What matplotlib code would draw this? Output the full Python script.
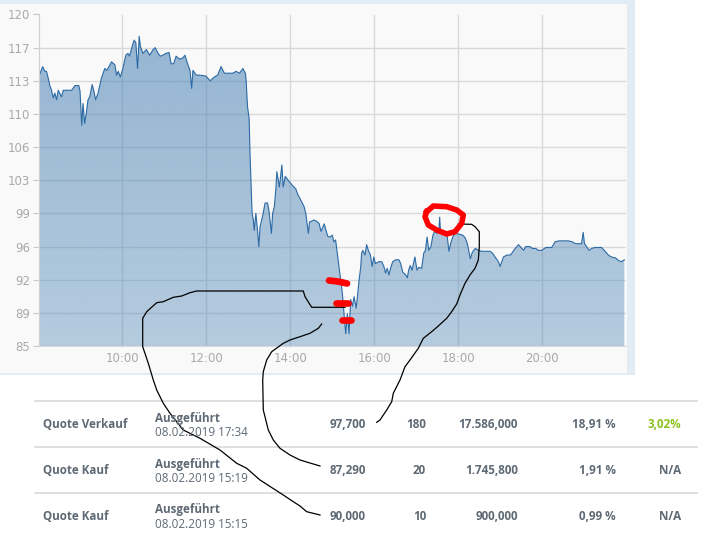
import numpy as np
import matplotlib.pyplot as plt
from matplotlib.patches import Rectangle

# intraday price curve (hours, price)
times = [8.00, 8.02, 8.10, 8.15, 8.19, 8.23, 8.27, 8.31, 8.35, 8.39, 8.43, 8.47, 8.55, 8.59,
         8.79, 8.87, 8.96, 8.99, 9.03, 9.06, 9.10, 9.14, 9.18, 9.22, 9.28, 9.32, 9.36, 9.42,
         9.50, 9.58, 9.63, 9.74, 9.82, 9.86, 9.90, 9.95, 10.01, 10.08, 10.13, 10.17, 10.23,
         10.28, 10.32, 10.36, 10.40, 10.43, 10.49, 10.57, 10.65, 10.73, 10.78, 10.85, 10.90,
         10.96, 11.04, 11.11, 11.16, 11.22, 11.28, 11.36, 11.44, 11.49, 11.56, 11.61, 11.65,
         11.68, 11.76, 11.84, 11.99, 12.09, 12.19, 12.27, 12.35, 12.43, 12.63, 12.71, 12.79,
         12.87, 12.93, 12.95, 12.98, 13.02, 13.04, 13.07, 13.09, 13.12, 13.14, 13.18, 13.22,
         13.25, 13.28, 13.34, 13.40, 13.46, 13.50, 13.55, 13.58, 13.62, 13.66, 13.68, 13.74,
         13.80, 13.83, 13.88, 13.97, 14.04, 14.13, 14.17, 14.25, 14.33, 14.37, 14.43, 14.46,
         14.57, 14.65, 14.69, 14.73, 14.81, 14.89, 14.94, 15.00, 15.04, 15.08, 15.12, 15.16,
         15.20, 15.24, 15.28, 15.32, 15.36, 15.40, 15.44, 15.48, 15.52, 15.57, 15.60, 15.64,
         15.68, 15.70, 15.73, 15.78, 15.82, 15.86, 15.91, 15.95, 15.99, 16.03, 16.11, 16.18,
         16.23, 16.27, 16.31, 16.35, 16.39, 16.44, 16.51, 16.59, 16.63, 16.68, 16.75, 16.79,
         16.82, 16.86, 16.90, 16.97, 17.02, 17.06, 17.13, 17.18, 17.22, 17.26, 17.30, 17.35,
         17.40, 17.44, 17.50, 17.54, 17.56, 17.58, 17.70, 17.74, 17.78, 17.82, 17.87, 17.93,
         18.03, 18.11, 18.17, 18.22, 18.25, 18.29, 18.33, 18.37, 18.41, 18.49, 18.55, 18.65,
         18.76, 18.82, 18.88, 18.96, 19.00, 19.04, 19.08, 19.16, 19.24, 19.28, 19.36, 19.44,
         19.52, 19.56, 19.61, 19.71, 19.77, 19.85, 19.91, 19.99, 20.09, 20.23, 20.31, 20.40,
         20.63, 20.72, 20.80, 20.88, 20.94, 20.98, 21.01, 21.06, 21.12, 21.18, 21.26, 21.42,
         21.50, 21.58, 21.65, 21.75, 21.83, 21.89, 21.96]
prices = [113.6, 113.6, 114.5, 114.0, 114.0, 113.3, 112.5, 112.0, 111.2, 111.7, 111.0, 112.0, 111.3, 112.0,
          112.0, 112.5, 112.5, 111.9, 108.3, 110.6, 108.5, 109.6, 111.0, 111.3, 112.6, 111.9, 111.0, 111.7,
          113.3, 114.3, 114.1, 115.0, 114.7, 113.6, 114.0, 113.4, 114.3, 115.7, 115.9, 115.6, 116.6,
          117.3, 117.0, 114.3, 117.7, 116.6, 115.9, 116.3, 115.7, 116.3, 116.5, 115.9, 115.6,
          115.7, 115.9, 116.0, 114.8, 114.8, 115.6, 115.3, 115.4, 115.7, 114.7, 114.1, 112.2,
          114.1, 113.6, 113.6, 113.5, 113.0, 113.4, 113.6, 114.5, 113.8, 113.8, 114.0, 113.8,
          114.3, 113.8, 112.9, 110.3, 109.0, 105.3, 101.6, 99.0, 98.3, 97.2, 99.0, 97.2,
          95.5, 97.6, 98.7, 100.1, 100.1, 99.0, 96.9, 99.0, 99.7, 101.8, 103.4, 101.8,
          104.1, 101.8, 102.9, 102.4, 102.0, 101.6, 101.1, 100.4, 99.7, 99.0, 96.9, 98.1,
          98.3, 98.1, 97.9, 97.1, 97.9, 96.6, 96.5, 96.7, 96.0, 96.2, 94.8, 93.4,
          92.0, 90.6, 88.4, 86.3, 88.4, 86.3, 89.9, 89.2, 90.2, 89.0, 90.2, 92.0,
          93.4, 94.8, 95.1, 94.6, 95.7, 95.1, 94.6, 93.4, 94.4, 93.7, 93.9, 93.9,
          93.4, 92.7, 93.2, 92.5, 93.2, 93.9, 94.1, 94.1, 93.7, 92.8, 92.5, 92.2,
          93.0, 93.5, 93.0, 94.4, 93.0, 93.3, 93.2, 94.8, 95.1, 96.5, 95.1, 95.5,
          96.7, 97.1, 96.9, 97.1, 98.6, 97.1, 96.9, 96.6, 95.0, 95.8, 96.5, 96.9,
          96.8, 96.7, 96.4, 95.8, 95.1, 94.2, 94.8, 95.1, 95.3, 95.1, 95.0, 95.0,
          95.0, 94.8, 94.4, 93.9, 93.4, 93.9, 94.4, 94.6, 94.6, 94.8, 95.3, 95.7,
          95.3, 95.1, 95.5, 95.5, 95.3, 95.3, 95.1, 95.1, 95.4, 95.4, 96.0, 96.1,
          96.1, 96.0, 95.8, 95.8, 95.8, 97.0, 95.8, 95.5, 95.1, 95.3, 95.4, 95.4,
          95.0, 94.6, 94.4, 94.3, 94.0, 93.9, 94.1]

y_ticks = np.arange(85, 120.1, 3.5)
y_labels = [str(int(np.floor(v + 0.5))) for v in y_ticks]
x_ticks = [10, 12, 14, 16, 18, 20]
x_labels = ['%d:00' % h for h in x_ticks]

# order table below the chart
row_types = ['Quote Verkauf', 'Quote Kauf', 'Quote Kauf']
row_status = ['Ausgeführt', 'Ausgeführt', 'Ausgeführt']
row_dates = ['08.02.2019 17:34', '08.02.2019 15:19', '08.02.2019 15:15']
row_prices = ['97,700', '87,290', '90,000']
row_qty = ['180', '20', '10']
row_volume = ['17.586,000', '1.745,800', '900,000']
row_share = ['18,91 %', '1,91 %', '0,99 %']
row_result = ['3,02%', 'N/A', 'N/A']

# hand drawn marks on the screenshot (pixel coords)
red_marks = [[(329, 280.5), (338, 281.5), (347, 283.5)],
             [(336, 302.5), (348, 302.5)],
             [(342, 319.5), (351, 319.5)]]
red_loop = [(426.7, 211.7), (433.3, 206), (446.7, 206.7), (456.7, 210), (463.3, 215), (461.7, 223.3),
            (455, 231.7), (446.7, 234), (436.7, 230), (428.3, 225), (425, 216.7), (426.7, 211.7)]
black_a = [(320, 515), (306.7, 511.7), (300, 506), (293.3, 501.7), (283.3, 495), (260, 480),
           (246.7, 468.3), (236.7, 463.3), (220, 450), (200, 438.3), (183.3, 430), (170, 413.3),
           (163.3, 403.3), (156.7, 390), (153.3, 380), (148.3, 363.3), (142.7, 346.7), (142.7, 318.3),
           (146.7, 311.7), (156.7, 302.7), (163.3, 301.7), (173.3, 297.3), (181.7, 296), (190, 292.7),
           (196.7, 291), (303.3, 291), (305, 296.7), (311.7, 307.3), (345, 307.3)]
black_b = [(320, 466), (300, 460), (290, 455), (280, 448.3), (273.3, 440), (268.3, 430), (263.3, 410),
           (262.7, 380), (263.3, 371.7), (266.7, 360), (271.7, 351.7), (283.3, 343.3), (290, 340),
           (300, 336.7), (310, 333.3), (318.3, 328.3), (321.7, 324)]
black_c = [(376.7, 422.3), (380, 420), (386.7, 410), (391.7, 401.7), (393.3, 393.3), (398.3, 383.3),
           (400, 380), (405, 366.7), (410, 360), (418.3, 348.3), (423.3, 338.3), (431.7, 331.7),
           (438.3, 326), (446.7, 318.3), (451.7, 311.7), (456.7, 304), (460, 295), (465, 283.3),
           (470, 275), (475, 268.3), (478.3, 260), (479.3, 246.7), (479.3, 231.7), (475, 226.7),
           (471.7, 224.3), (458.3, 224)]

W, H = 702, 533
fig = plt.figure(figsize=(W / 100, H / 100), dpi=100)

bg = fig.add_axes([0, 0, 1, 1])
bg.set_xlim(0, W)
bg.set_ylim(H, 0)
bg.axis('off')
bg.add_patch(Rectangle((0, 0), 635, 375, color='#e1ecf4', lw=0))
bg.add_patch(Rectangle((0, 4), 627, 369, color='#f9f9f9', lw=0))

ax = fig.add_axes([38.5 / W, 1 - 346 / H, (626 - 38.5) / W, (346 - 14.5) / H])
ax.set_facecolor('none')

# gradient area under the curve
rgba = np.zeros((256, 1, 4))
rgba[:, 0, 0] = 78 / 255
rgba[:, 0, 1] = 133 / 255
rgba[:, 0, 2] = 182 / 255
rgba[:, 0, 3] = np.linspace(0.6, 0.4, 256)
im = ax.imshow(rgba, extent=(8, 22, 85, 120), aspect='auto', origin='upper', zorder=1)
poly = ax.fill_between(times, prices, 85, facecolor='none', lw=0)
im.set_clip_path(poly.get_paths()[0], transform=ax.transData)
ax.plot(times, prices, color='#2c6aa5', lw=0.8, zorder=2)

ax.set_xlim(8, 22)
ax.set_ylim(85, 120)
ax.set_yticks(y_ticks, y_labels)
ax.set_xticks(x_ticks, x_labels)
ax.grid(True, color='#d9d9d9', lw=1)
ax.set_axisbelow(True)
ax.get_ygridlines()[-1].set_visible(False)
ax.tick_params(axis='y', length=4.5, width=0.8, color='#c8c8c8', pad=1.8, labelsize=8.5, labelcolor='#a9a9a9')
ax.tick_params(axis='x', length=0, pad=4.5, labelsize=8.5, labelcolor='#a9a9a9')
ax.spines['top'].set_visible(False)
ax.spines['right'].set_visible(False)
ax.spines['left'].set_color('#cfcfcf')
ax.spines['bottom'].set_color('#d9d9d9')

ov = fig.add_axes([0, 0, 1, 1], zorder=5)
ov.set_xlim(0, W)
ov.set_ylim(H, 0)
ov.axis('off')

for y in [401, 447, 493]:
    ov.plot([35, 697], [y, y], color='#d9d9d9', lw=1.2)

txt = '#5f6a75'
fnt = 'Open Sans'
fs = 8.4
row_y = [425, 471, 516.5]
for i, y in enumerate(row_y):
    ov.text(43, y, row_types[i], ha='left', va='center', fontsize=fs, fontweight='bold', color=txt, family=fnt)
    ov.text(155, y - 6.5, row_status[i], ha='left', va='center', fontsize=fs, fontweight='bold', color=txt, family=fnt)
    ov.text(155, y + 8, row_dates[i], ha='left', va='center', fontsize=fs, color=txt, family=fnt)
    ov.text(366, y, row_prices[i], ha='right', va='center', fontsize=fs, fontweight='bold', color=txt, family=fnt)
    ov.text(426, y, row_qty[i], ha='right', va='center', fontsize=fs, fontweight='bold', color=txt, family=fnt)
    ov.text(518, y, row_volume[i], ha='right', va='center', fontsize=fs, fontweight='bold', color=txt, family=fnt)
    ov.text(616, y, row_share[i], ha='right', va='center', fontsize=fs, fontweight='bold', color=txt, family=fnt)
    col = '#8cc21e' if row_result[i] != 'N/A' else txt
    ov.text(681, y, row_result[i], ha='right', va='center', fontsize=fs, fontweight='bold', color=col, family=fnt)

for path in [black_a, black_b, black_c]:
    xs, ys = zip(*path)
    ov.plot(xs, ys, color='black', lw=0.9)
for path in red_marks:
    xs, ys = zip(*path)
    ov.plot(xs, ys, color='#ff0000', lw=4.8, solid_capstyle='round')
xs, ys = zip(*red_loop)
ov.plot(xs, ys, color='#ff0000', lw=4.0, solid_joinstyle='round')

fig.savefig('out.png', dpi=100)
